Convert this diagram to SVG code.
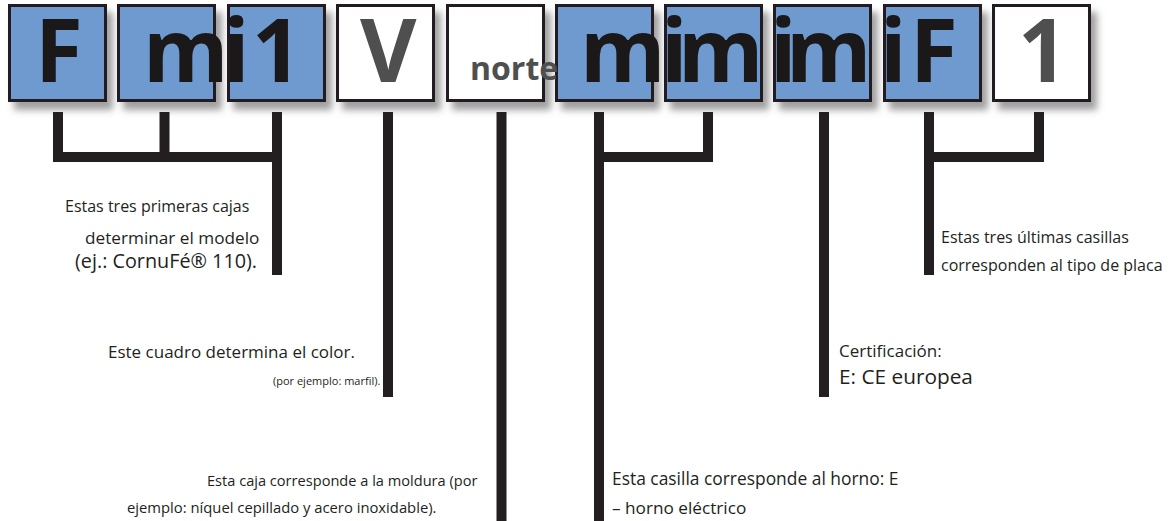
<svg xmlns="http://www.w3.org/2000/svg" width="1172" height="521" viewBox="0 0 1172 521">
<defs>
<filter id="sh" x="-20%" y="-20%" width="150%" height="150%">
<feGaussianBlur in="SourceAlpha" stdDeviation="3.5"/>
<feOffset dx="6" dy="8" result="b"/>
<feFlood flood-color="#808080" flood-opacity="0.75"/>
<feComposite in2="b" operator="in"/>
<feMerge><feMergeNode/><feMergeNode in="SourceGraphic"/></feMerge>
</filter>
</defs>
<style>
.box{stroke:#231f20;stroke-width:3}
.b{fill:#6e9ad0}
.w{fill:#ffffff}
.big{font-family:"Open Sans","Liberation Sans",sans-serif;font-weight:700;font-size:87px}
.k{fill:#1a1818}
.g{fill:#4f4f4f}
.lbl{font-family:"Open Sans","Noto Sans",sans-serif;fill:#231f20}
.con{stroke:#231f20;stroke-width:10;fill:none}
</style>
<g id="boxes" filter="url(#sh)">
<rect class="box b" x="9.5" y="5.5" width="96" height="95"/>
<rect class="box b" x="118.5" y="5.5" width="96" height="95"/>
<rect class="box b" x="228.5" y="5.5" width="96" height="95"/>
<rect class="box w" x="337.5" y="5.5" width="96" height="95"/>
<rect class="box w" x="447.5" y="5.5" width="96" height="95"/>
<rect class="box b" x="556.5" y="5.5" width="96" height="95"/>
<rect class="box b" x="665.5" y="5.5" width="96" height="95"/>
<rect class="box b" x="774.5" y="5.5" width="96" height="95"/>
<rect class="box b" x="884.5" y="5.5" width="96" height="95"/>
<rect class="box w" x="993.5" y="5.5" width="96" height="95"/>
</g>
<g id="letters">
<text class="big k" x="35" y="82">F</text>
<text class="big k" x="143 223 252" y="82">mi1</text>
<text class="big g" x="360" y="82">V</text>
<text class="g" x="470" y="80" style="font-family:'Open Sans',sans-serif;font-weight:700;font-size:32px">norte</text>
<text class="big k" x="580 661 678 770 786 880 910" y="82">mimimiF</text>
<text class="big g" x="1018" y="82">1</text>
</g>
<g id="connectors">
<path class="con" d="M58 112V162M53 157H282M164.5 112V157M277 112V275"/>
<path class="con" d="M388 112V397"/>
<path class="con" d="M501.5 112V521"/>
<path class="con" d="M599 112V521M594 157H713M708 112V162"/>
<path class="con" d="M824 112V397"/>
<path class="con" d="M929 112V275M924 157H1044M1039 112V162"/>
</g>
<g id="label-model">
<text class="lbl" x="65" y="212" font-size="16">Estas tres primeras cajas</text>
<text class="lbl" x="85" y="244" font-size="17.2">determinar el modelo</text>
<text class="lbl" x="75" y="268" font-size="19.8">(ej.: CornuFé® 110).</text>
</g>
<g id="label-color">
<text class="lbl" x="108" y="358" font-size="17">Este cuadro determina el color.</text>
<text class="lbl" x="273" y="385" font-size="11">(por ejemplo: marfil).</text>
</g>
<g id="label-moldura">
<text class="lbl" x="207" y="486" font-size="14.6">Esta caja corresponde a la moldura (por</text>
<text class="lbl" x="127" y="513" font-size="14.8">ejemplo: níquel cepillado y acero inoxidable).</text>
</g>
<g id="label-horno">
<text class="lbl" x="612" y="485" font-size="17.4">Esta casilla corresponde al horno: E</text>
<text class="lbl" x="612" y="514" font-size="17.2">– horno eléctrico</text>
</g>
<g id="label-cert">
<text class="lbl" x="839" y="357" font-size="17">Certificación:</text>
<text class="lbl" x="839" y="384" font-size="20.8">E: CE europea</text>
</g>
<g id="label-placa">
<text class="lbl" x="941" y="243" font-size="16">Estas tres últimas casillas</text>
<text class="lbl" x="941" y="271" font-size="16">corresponden al tipo de placa</text>
</g>
</svg>
